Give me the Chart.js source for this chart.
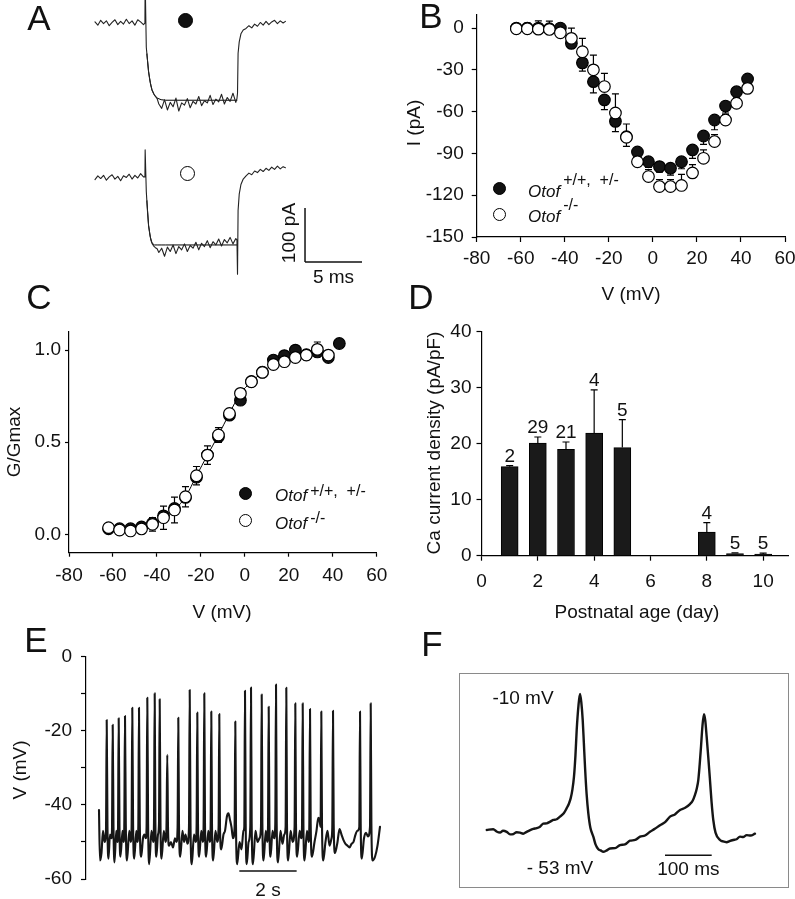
<!DOCTYPE html>
<html>
<head>
<meta charset="utf-8">
<title>Otof Ca currents</title>
<script src="https://cdn.jsdelivr.net/npm/chart.js@4.4.1/dist/chart.umd.min.js"></script>
<style>
  body { margin: 0; background: #fff; }
  #fig { position: relative; width: 795px; height: 899px; overflow: hidden; background: #fff;
         font-family: 'Liberation Sans', Arial, sans-serif; color: #111; }
  #fig canvas { position: absolute; }
  .txt { position: absolute; white-space: nowrap; line-height: 1; font-size: 19px; transform: translate(-50%, -50%); }
  .vert { transform: translate(-50%, -50%) rotate(-90deg); }
  .letter { font-size: 35px; }
  .leg { position: absolute; white-space: nowrap; line-height: 1; font-size: 17px; font-style: italic; transform: translateY(-50%); }
  .leg span { position: relative; font-size: 16px; font-style: normal; margin-left: 3px; }
  .dot { position: absolute; width: 13px; height: 13px; margin: -6.5px 0 0 -6.5px; border-radius: 50%;
         border: 1.3px solid #000; box-sizing: border-box; background: #fff; }
  .dot.filled { background: #111; }
  .dot.big { width: 15px; height: 15px; margin: -7.5px 0 0 -7.5px; border-width: 1.5px; }
  #fbox { position: absolute; left: 459px; top: 673px; width: 330px; height: 215px;
          border: 1px solid #8a8a8a; box-sizing: border-box; }
</style>
</head>
<body>
<div id="fig">
  <canvas id="chartA" width="400" height="290" style="left:0;top:0"></canvas>
  <canvas id="chartB" width="395" height="300" style="left:400px;top:0"></canvas>
  <canvas id="chartC" width="400" height="330" style="left:0;top:300px"></canvas>
  <canvas id="chartD" width="395" height="330" style="left:400px;top:300px"></canvas>
  <canvas id="chartE" width="400" height="269" style="left:0;top:630px"></canvas>
  <div id="fbox"><canvas id="chartF" width="328" height="213" style="left:0;top:0"></canvas></div>

  <!-- panel letters -->
  <div class="txt letter" style="left:39px;top:17px">A</div>
  <div class="txt letter" style="left:431px;top:15px">B</div>
  <div class="txt letter" style="left:39px;top:296px">C</div>
  <div class="txt letter" style="left:421px;top:296px">D</div>
  <div class="txt letter" style="left:36px;top:639px">E</div>
  <div class="txt letter" style="left:432px;top:643px">F</div>

  <!-- panel A markers -->
  <div class="dot filled big" style="left:185px;top:20px"></div>
  <div class="dot big" style="left:187px;top:173px"></div>

  <!-- axis titles -->
  <div class="txt vert" style="left:413px;top:123px">I (pA)</div>
  <div class="txt" style="left:631px;top:293px">V (mV)</div>
  <div class="txt vert" style="left:13px;top:442px">G/Gmax</div>
  <div class="txt" style="left:222px;top:611px">V (mV)</div>
  <div class="txt vert" style="left:433px;top:443px">Ca current density (pA/pF)</div>
  <div class="txt" style="left:637px;top:611px">Postnatal age (day)</div>
  <div class="txt vert" style="left:19px;top:770px">V (mV)</div>

  <!-- legends -->
  <div class="dot filled" style="left:499px;top:188px"></div>
  <div class="dot" style="left:499px;top:214px"></div>
  <div class="leg" style="left:528px;top:191px">Otof<span style="top:-12px">+/+,&nbsp; +/-</span></div>
  <div class="leg" style="left:528px;top:216px">Otof<span style="top:-12px">-/-</span></div>

  <div class="dot filled" style="left:245px;top:493px"></div>
  <div class="dot" style="left:245px;top:520px"></div>
  <div class="leg" style="left:275px;top:495px">Otof<span style="top:-5px">+/+,&nbsp; +/-</span></div>
  <div class="leg" style="left:275px;top:523px">Otof<span style="top:-6px">-/-</span></div>

  <!-- panel F annotations -->
  <div class="txt" style="left:523px;top:697px">-10 mV</div>
  <div class="txt" style="left:560px;top:867px">- 53 mV</div>
</div>

<script>
// ---------- Panel A: Ca current traces (pA vs ms) ----------
const A_TIME = [0, 0.25, 0.5, 0.75, 1, 1.25, 1.5, 1.75, 2, 2.25, 2.5, 2.75, 3, 3.25, 3.5, 3.75, 4, 4.25,
    4.38, 4.4, 4.5, 4.6, 4.7, 4.8, 4.9, 5.0, 5.15, 5.3, 5.45,
    5.6, 5.85, 6.1, 6.35, 6.6, 6.85, 7.1, 7.35, 7.6, 7.85, 8.1, 8.35, 8.6, 8.85, 9.1, 9.35, 9.6, 9.85,
    10.1, 10.35, 10.6, 10.85, 11.1, 11.35, 11.6, 11.85, 12.1, 12.35,
    12.45, 12.5, 12.55, 12.65, 12.8, 13.0,
    13.25, 13.5, 13.75, 14, 14.25, 14.5, 14.75, 15, 15.25, 15.5, 15.75, 16, 16.25, 16.5, 16.7];
const A_WT = [2, -4, 5, -1, 4, -5, 1, 6, -3, 3, -2, 7, -1, 4, -4, 6, 2, -3,
    0, 80, -45, -68, -90, -105, -116, -124, -131, -136, -140,
    -150, -158, -142, -161, -147, -155, -139, -163, -148, -152, -140, -157, -145, -150, -136, -153, -144, -148,
    -134, -151, -141, -146, -132, -150, -138, -145, -130, -147,
    -140, -130, -56, -35, -20, -13,
    -10, -5, -9, -2, -6, 1, -4, 3, -3, 2, 5, -1, 4, 0, 3];
const A_KO = [-3, 4, -1, 5, -4, 2, 6, -2, 3, -5, 4, 1, 7, -2, 5, 0, 8, 2,
    2, 52, -25, -60, -88, -103, -115, -121, -126, -129, -131,
    -138, -130, -145, -128, -136, -124, -140, -127, -133, -122, -136, -125, -130, -119, -133, -121, -127, -116,
    -129, -118, -124, -113, -126, -114, -120, -110, -122, -112,
    -115, -178, -60, -30, -12, -2,
    4, 9, 6, 13, 10, 16, 12, 18, 14, 20, 16, 22, 17, 21, 19];
const A_FIT_TIME = [4.55, 4.7, 4.85, 5.0, 5.2, 5.45, 5.8, 6.2, 12.45];
const A_WT_FIT = [-57, -90, -110, -124, -133, -139, -142, -143, -143];
const A_KO_FIT = [-42, -88, -109, -120, -124, -124, -124, -124, -124];

// ---------- Panels B and C: I-V and G-V ----------
const STEP_VOLT = [-62, -57, -52, -47, -42, -37, -32, -27, -22, -17, -12, -7, -2, 3, 8, 13, 18, 23, 28, 33, 38, 43];
const IV_WT = [0, 0, 0, -0.5, 0, -11, -25, -38.5, -51.6, -67, -78, -89, -96, -99.5, -100.6, -96, -87.5, -77.5, -66, -56, -45.7, -36.6];
const IV_WT_SEM = [0, 0, 0, 0, 2, 3.6, 6, 8, 7, 7.4, 7, 4, 4, 4, 5, 5, 6, 6, 7, 5, 4, 3];
const IV_KO = [-0.5, -0.5, -0.8, -1, -3.4, -7.4, -17, -30, -42, -61, -78.4, -96, -106.6, -113.8, -113.8, -113, -104, -93.5, -81.5, -66, -54, -43.3];
const IV_KO_SEM = [2, 4, 6, 6, 4, 7.4, 9.6, 10.6, 9.5, 13.7, 9.5, 5, 5, 5, 5, 8, 6, 6, 5, 4, 3, 3];

const GV_WT = [0.03, 0.03, 0.03, 0.04, 0.06, 0.1, 0.14, 0.2, 0.31, 0.43, 0.53, 0.647, 0.728, 0.83, 0.88, 0.946, 0.97, 1.0, 0.975, 0.99, 0.96, 1.036];
const GV_KO = [0.036, 0.023, 0.018, 0.029, 0.054, 0.09, 0.132, 0.204, 0.318, 0.43, 0.539, 0.656, 0.765, 0.828, 0.879, 0.922, 0.937, 0.96, 0.973, 1.004, 0.973];
const GV_KO_SEM = [0.005, 0.005, 0.005, 0.01, 0.037, 0.063, 0.07, 0.055, 0.05, 0.05, 0.04, 0.02, 0.01, 0.01, 0.01, 0.01, 0.01, 0.01, 0.01, 0.04, 0.01];

const VOLT_TICKS = [-80, -60, -40, -20, 0, 20, 40, 60];
const IV_TICKS = [-150, -120, -90, -60, -30, 0];
const GV_TICKS = [0, 0.5, 1.0];

// ---------- Panel D: development ----------
const DEV_DAYS = [1, 2, 3, 4, 5, 8, 9, 10];
const DEV_MEAN = [15.9, 20.1, 19.0, 21.9, 19.3, 4.2, 0.4, 0.3];
const DEV_SEM = [0.2, 1.1, 1.3, 7.7, 5.0, 1.7, 0.1, 0.15];
const DEV_N = ['2', '29', '21', '4', '5', '4', '5', '5'];
const DAY_TICKS = [0, 2, 4, 6, 8, 10];
const DENSITY_TICKS = [0, 10, 20, 30, 40];

// ---------- Panel E: spontaneous spiking (s, mV) ----------
const E_TIME = [0, 0.035, 0.087, 0.14, 0.192, 0.244, 0.269, 0.296, 0.331, 0.384, 0.429, 0.453, 0.478, 0.506, 0.541,
    0.603, 0.642, 0.663, 0.687, 0.715, 0.75, 0.82, 0.858, 0.882, 0.907, 0.935, 0.977, 1.057, 1.106, 1.137, 1.161,
    1.189, 1.231, 1.301, 1.339, 1.371, 1.395, 1.423, 1.472, 1.535, 1.587, 1.632, 1.66, 1.685, 1.713, 1.751, 1.831,
    1.89, 1.918, 1.943, 1.967, 2.002, 2.058, 2.093, 2.117, 2.145, 2.183, 2.26, 2.32, 2.354, 2.382, 2.407, 2.442,
    2.511, 2.581, 2.651, 2.703, 2.742, 2.766, 2.79, 2.836, 2.912, 2.965, 3.017, 3.087, 3.139, 3.164, 3.192, 3.237,
    3.314, 3.376, 3.404, 3.429, 3.453, 3.495, 3.568, 3.621, 3.648, 3.673, 3.697, 3.739, 3.812, 3.865, 3.893, 3.917,
    3.941, 3.983, 4.063, 4.123, 4.172, 4.196, 4.22, 4.266, 4.342, 4.395, 4.465, 4.517, 4.569, 4.622, 4.674, 4.73,
    4.754, 4.779, 4.82, 4.901, 4.97, 5.04, 5.068, 5.092, 5.117, 5.155, 5.218, 5.277, 5.302, 5.326, 5.372, 5.459,
    5.528, 5.598, 5.65, 5.675, 5.699, 5.741, 5.818, 5.867, 5.895, 5.919, 5.944, 5.985, 6.052, 6.111, 6.149, 6.174,
    6.198, 6.244, 6.331, 6.4, 6.463, 6.509, 6.533, 6.557, 6.599, 6.683, 6.753, 6.822, 6.847, 6.871, 6.913, 6.997,
    7.053, 7.081, 7.105, 7.13, 7.171, 7.255, 7.311, 7.335, 7.36, 7.384, 7.429, 7.517, 7.586, 7.649, 7.691, 7.729,
    7.754, 7.778, 7.824, 7.9, 7.97, 8.04, 8.11, 8.137, 8.162, 8.186, 8.232, 8.319, 8.389, 8.458, 8.528, 8.598,
    8.668, 8.737, 8.807, 8.877, 8.947, 9.016, 9.079, 9.104, 9.128, 9.166, 9.243, 9.313, 9.383, 9.452, 9.477, 9.501,
    9.543, 9.627, 9.714, 9.801];
const E_VOLT = [-41.4, -55, -53, -47, -50, -47, -17.1, -46, -54.5, -48, -49, -47, -18.4, -46, -55.5,
    -47, -50, -47, -16.6, -46, -54, -47, -50, -46, -16, -45, -55, -47, -50, -46, -13.8,
    -45, -54.5, -47, -50, -46, -13.8, -45, -54, -49, -48, -49, -46, -11.1, -45, -56, -47,
    -50, -45, -9.9, -45, -54, -48, -45, -11.5, -45, -54.5, -47, -50, -46, -26.5, -46, -51,
    -50, -51.5, -49, -50, -46, -16.5, -45, -54, -47, -50, -48, -50.5, -46, -9, -45, -56,
    -48, -50, -46, -15.1, -45, -54, -47, -50, -46, -9.9, -45, -54, -47, -50, -46, -14.8,
    -45, -55, -47, -50, -46, -15.5, -46, -52, -48, -47, -43, -42.3, -44, -46, -49, -46,
    -17.5, -46, -56, -50, -52, -47, -46, -9.2, -45, -56, -50, -46, -8.3, -45, -56, -47,
    -50, -49, -46, -10.2, -45, -55, -47, -50, -46, -13.5, -45, -54, -47, -49, -45, -7.5,
    -45, -55.5, -47, -50.5, -48, -46, -8.4, -45, -55, -47, -50, -46, -12.6, -45, -54, -47,
    -49, -46, -12.6, -45, -55, -47, -50, -46, -14.1, -45, -54, -50, -47, -43.5, -44, -46,
    -14.8, -45, -55, -50, -47, -51, -49, -46, -14.6, -45, -53, -50, -46.5, -48, -49.5, -50.5,
    -51, -51.5, -50.5, -50, -48, -47, -46, -14.8, -45, -54.5, -49, -47.5, -48.5, -46, -12.6, -45,
    -55, -54, -51, -45.9];
const E_TICKS = [0, -10, -20, -30, -40, -50, -60];

// ---------- Panel F: two action potentials (ms, mV) ----------
const F_TIME = [0, 14.1, 21, 28.5, 35, 42.8, 50, 57, 64, 71.3, 78, 85.7, 92, 99.8, 107, 114.1, 121, 128.5, 135,
    142.6, 150, 157, 165, 171.3, 176, 179.9, 183.5, 186.9, 190, 192.7, 196.5, 199.8, 202.5, 205.6, 208, 210.5,
    214, 217.6, 222, 228.3, 233, 239, 244, 249.7, 256, 264, 275, 285.4, 296, 306.9, 318, 328.3, 339, 349.7,
    360, 371.1, 382, 392.5, 403, 413.9, 425, 435.3, 441, 446, 450, 453.1, 456, 458.9, 462, 465.3, 468, 471,
    474.5, 478.1, 481.5, 485.2, 490, 499.6, 506, 513.9, 520, 528, 535, 542.4, 549, 556.7, 565, 574.5];
const F_VOLT = [-47.1, -46.9, -47.5, -47.8, -47.3, -47.6, -48.3, -48.2, -47.7, -47.8, -48.1, -47.6, -47.2, -46.8,
    -46.6, -46.2, -45.4, -45.3, -44.9, -44.4, -44.2, -43.5, -42.6, -41.2, -40, -38.5, -36.2, -32.7, -27, -20.1,
    -13.5, -10.35, -12.5, -17.4, -23.5, -30, -37.5, -42.6, -46.5, -48.9, -51, -52.3, -52.6, -53, -52.7, -52.1,
    -52, -51.2, -51, -50, -49.8, -48.9, -48.6, -47.6, -46.8, -45.8, -45, -43.5, -42.9, -41.7, -41.1, -40.1,
    -39.2, -37.6, -35.8, -33.6, -29.5, -24.6, -19, -15.8, -17.5, -21.9, -27.5, -33.6, -39.5, -44.4, -47.8,
    -49.8, -50.2, -50.4, -50.1, -49.8, -49.6, -48.9, -49, -48.5, -48.6, -48.1];

// ---------- shared setup ----------
const FONT = "'Liberation Sans', Arial, sans-serif";
Chart.defaults.font.family = FONT;
Chart.defaults.font.size = 19;
Chart.defaults.color = '#111';
Chart.defaults.animation = false;
Chart.defaults.responsive = false;
Chart.defaults.plugins.legend.display = false;
Chart.defaults.plugins.tooltip.enabled = false;

const KO_OFFSET = -287; // vertical offset of the lower trace in panel A

function pts(xs, ys, shift) {
    return xs.map((x, i) => ({ x: x, y: ys[i] + (shift || 0) }));
}

function axis(o) {
    return {
        type: 'linear',
        min: o.min,
        max: o.max,
        offset: false,
        border: { display: true, color: '#000', width: 1.2 },
        grid: { display: true, drawOnChartArea: false, drawTicks: true, offset: false,
                tickLength: o.tickLength, tickColor: '#000', tickWidth: 1.2 },
        ticks: { padding: o.padding, color: '#111', font: { size: 19 }, autoSkip: false,
                 maxRotation: 0, minRotation: 0, callback: o.format || (v => String(v)) },
        afterBuildTicks: s => { s.ticks = o.ticks.map(v => ({ value: v })); },
        afterFit: s => {
            if (s.isHorizontal()) s.height = o.size; else s.width = o.size;
            s.paddingLeft = 0; s.paddingRight = 0; s.paddingTop = 0; s.paddingBottom = 0;
        }
    };
}

function hidden(min, max) {
    return { type: 'linear', display: false, min: min, max: max };
}

// error bars, drawn behind the symbols unless front is set
function drawErrors(chart, opts) {
    if (!opts || !opts.sets) return;
    const { ctx, scales: { x, y } } = chart;
    ctx.save();
    ctx.strokeStyle = '#000';
    ctx.lineWidth = 1.2;
    opts.sets.forEach(s => {
        s.x.forEach((xv, i) => {
            const e = s.err[i];
            if (!e || s.y[i] === undefined) return;
            const px = x.getPixelForValue(xv);
            const p0 = y.getPixelForValue(s.y[i]);
            const ends = s.dir === 0 ? [s.y[i] - e, s.y[i] + e] : [s.y[i] + s.dir * e];
            ends.forEach(v => {
                const p1 = y.getPixelForValue(v);
                ctx.beginPath();
                ctx.moveTo(px, p0); ctx.lineTo(px, p1);
                ctx.moveTo(px - opts.cap, p1); ctx.lineTo(px + opts.cap, p1);
                ctx.stroke();
            });
        });
    });
    ctx.restore();
}
const errorBars = {
    id: 'errorBars',
    beforeDatasetsDraw(chart, args, opts) { if (!opts.front) drawErrors(chart, opts); },
    afterDatasetsDraw(chart, args, opts) { if (opts.front) drawErrors(chart, opts); }
};

// scale bars with their labels, in data units
const scaleBars = {
    id: 'scaleBars',
    afterDatasetsDraw(chart, args, opts) {
        if (!opts.bars) return;
        const { ctx, scales: { x, y } } = chart;
        ctx.save();
        ctx.strokeStyle = '#111';
        ctx.fillStyle = '#111';
        ctx.lineWidth = 1.5;
        ctx.font = '19px ' + FONT;
        opts.bars.forEach(b => {
            const x0 = x.getPixelForValue(b.x0), x1 = x.getPixelForValue(b.x1);
            const y0 = y.getPixelForValue(b.y0), y1 = y.getPixelForValue(b.y1);
            ctx.beginPath(); ctx.moveTo(x0, y0); ctx.lineTo(x1, y1); ctx.stroke();
            if (b.label) {
                ctx.save();
                ctx.translate((x0 + x1) / 2 + (b.dx || 0), (y0 + y1) / 2 + (b.dy || 0));
                if (b.rotate) ctx.rotate(-Math.PI / 2);
                ctx.textAlign = 'center';
                ctx.textBaseline = 'middle';
                ctx.fillText(b.label, 0, 0);
                ctx.restore();
            }
        });
        ctx.restore();
    }
};

// n above each bar in panel D
const countLabels = {
    id: 'countLabels',
    afterDatasetsDraw(chart) {
        const { ctx, scales: { x, y } } = chart;
        ctx.save();
        ctx.fillStyle = '#111';
        ctx.font = '19px ' + FONT;
        ctx.textAlign = 'center';
        ctx.textBaseline = 'alphabetic';
        DEV_DAYS.forEach((d, i) => {
            ctx.fillText(DEV_N[i], x.getPixelForValue(d), y.getPixelForValue(DEV_MEAN[i] + DEV_SEM[i]) - 4);
        });
        ctx.restore();
    }
};

function traceSet(data, width, color, smooth) {
    const set = { data: data, borderColor: color || '#151515', borderWidth: width, pointRadius: 0,
                  tension: 0, fill: false, borderJoinStyle: 'round', borderCapStyle: 'round' };
    if (smooth) set.cubicInterpolationMode = 'monotone';
    return set;
}

// ---------- A ----------
new Chart(document.getElementById('chartA'), {
    type: 'line',
    data: {
        datasets: [
            traceSet(pts(A_TIME, A_WT), 1.1, '#222'),
            traceSet(pts(A_TIME, A_KO, KO_OFFSET), 1.1, '#222'),
            traceSet(pts(A_FIT_TIME, A_WT_FIT), 1, '#000'),
            traceSet(pts(A_FIT_TIME, A_KO_FIT, KO_OFFSET), 1, '#000')
        ]
    },
    options: {
        devicePixelRatio: 1,
        layout: { padding: 0 },
        scales: { x: hidden(-8.33, 26.75), y: hidden(-494.4, 42.6) },
        plugins: {
            scaleBars: { bars: [
                { x0: 18.42, y0: -342.6, x1: 18.42, y1: -442.6, label: '100 pA', rotate: true, dx: -15, dy: -2 },
                { x0: 18.42, y0: -442.6, x1: 23.42, y1: -442.6, label: '5 ms', dy: 16 }
            ] }
        }
    },
    plugins: [scaleBars]
});

// ---------- B ----------
const symbol = (fill) => ({ pointRadius: 5.8, pointBorderWidth: 1.2, pointBorderColor: '#000', pointBackgroundColor: fill });
new Chart(document.getElementById('chartB'), {
    type: 'scatter',
    data: {
        datasets: [
            Object.assign({ label: 'Otof -/-', data: pts(STEP_VOLT, IV_KO), order: 0 }, symbol('#fff')),
            Object.assign({ label: 'Otof +/+, +/-', data: pts(STEP_VOLT, IV_WT), order: 1 }, symbol('#141414'))
        ]
    },
    options: {
        devicePixelRatio: 1,
        layout: { padding: { left: 0, top: 14.8, right: 10, bottom: 0 } },
        scales: {
            x: axis({ min: -80, max: 60, ticks: VOLT_TICKS, tickLength: 5, padding: 5, size: 63 }),
            y: axis({ min: -150, max: 9.5, ticks: IV_TICKS, tickLength: 5, padding: 8, size: 76.7 })
        },
        plugins: {
            errorBars: { cap: 3.5, sets: [
                { x: STEP_VOLT, y: IV_WT, err: IV_WT_SEM, dir: -1 },
                { x: STEP_VOLT, y: IV_KO, err: IV_KO_SEM, dir: 1 }
            ] }
        }
    },
    plugins: [errorBars]
});

// ---------- C ----------
new Chart(document.getElementById('chartC'), {
    type: 'scatter',
    data: {
        datasets: [
            Object.assign({ label: 'Otof -/-', data: pts(STEP_VOLT.slice(0, GV_KO.length), GV_KO), order: 0,
                            showLine: true, borderColor: '#000', borderWidth: 1, tension: 0.35 }, symbol('#fff')),
            Object.assign({ label: 'Otof +/+, +/-', data: pts(STEP_VOLT, GV_WT), order: 1 }, symbol('#141414'))
        ]
    },
    options: {
        devicePixelRatio: 1,
        layout: { padding: { left: 0, top: 31.7, right: 23.3, bottom: 0 } },
        scales: {
            x: axis({ min: -80, max: 60, ticks: VOLT_TICKS, tickLength: 4, padding: 8, size: 77.3 }),
            y: axis({ min: -0.1, max: 1.1, ticks: GV_TICKS, tickLength: 4, padding: 4, size: 69,
                      format: v => v.toFixed(1) })
        },
        plugins: {
            errorBars: { cap: 3.5, sets: [
                { x: STEP_VOLT, y: GV_KO, err: GV_KO_SEM, dir: 0 }
            ] }
        }
    },
    plugins: [errorBars]
});

// ---------- D ----------
new Chart(document.getElementById('chartD'), {
    type: 'bar',
    data: {
        datasets: [{
            data: pts(DEV_DAYS, DEV_MEAN),
            backgroundColor: '#1a1a1a',
            borderColor: '#000',
            borderWidth: 1,
            barThickness: 17
        }]
    },
    options: {
        devicePixelRatio: 1,
        layout: { padding: { left: 0, top: 31.7, right: 6.5, bottom: 0 } },
        scales: {
            x: axis({ min: 0, max: 10.9, ticks: DAY_TICKS, tickLength: 5, padding: 10, size: 74.3 }),
            y: axis({ min: 0, max: 40, ticks: DENSITY_TICKS, tickLength: 5, padding: 5, size: 81.5 })
        },
        plugins: {
            errorBars: { cap: 3.5, front: true, sets: [
                { x: DEV_DAYS, y: DEV_MEAN, err: DEV_SEM, dir: 1 }
            ] }
        }
    },
    plugins: [errorBars, countLabels]
});

// ---------- E ----------
new Chart(document.getElementById('chartE'), {
    type: 'line',
    data: { datasets: [traceSet(pts(E_TIME, E_VOLT), 2.1, '#161616', true)] },
    options: {
        devicePixelRatio: 1,
        layout: { padding: { left: 0, top: 26.7, right: 10, bottom: 20 } },
        scales: {
            x: hidden(-0.453, 10.15),
            y: axis({ min: -60, max: 0, ticks: E_TICKS, tickLength: 5, padding: 9, size: 86,
                      format: v => (v % 20 === 0 ? String(v) : '') })
        },
        plugins: {
            scaleBars: { bars: [{ x0: 4.894, y0: -57.84, x1: 6.894, y1: -57.84, label: '2 s', dy: 20 }] }
        }
    },
    plugins: [scaleBars]
});

// ---------- F ----------
new Chart(document.getElementById('chartF'), {
    type: 'line',
    data: { datasets: [traceSet(pts(F_TIME, F_VOLT), 2.4, '#151515', true)] },
    options: {
        devicePixelRatio: 1,
        layout: { padding: 0 },
        scales: { x: hidden(-57.2, 645.2), y: hidden(-62.51, -4.95) },
        plugins: {
            scaleBars: { bars: [{ x0: 381.8, y0: -53.9, x1: 481.8, y1: -53.9, label: '100 ms', dy: 15 }] }
        }
    },
    plugins: [scaleBars]
});
</script>
</body>
</html>
